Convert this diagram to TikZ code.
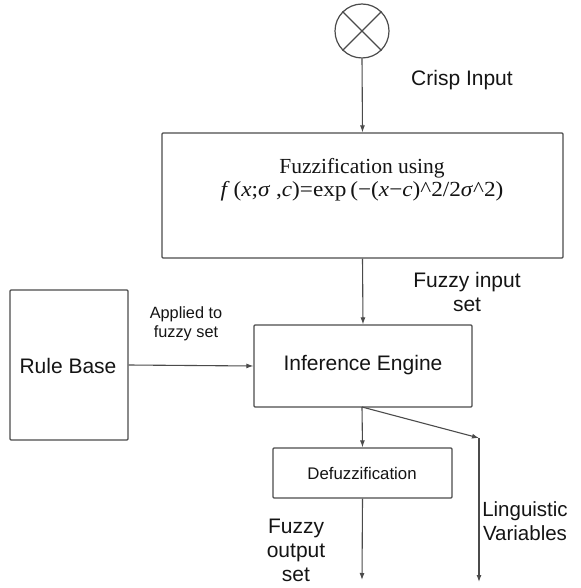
\documentclass[tikz,border=0pt]{standalone}
\usepackage{fontspec}
\setmainfont{Liberation Sans}
\newfontfamily\formulafont{Liberation Serif}
\usetikzlibrary{arrows.meta}
\definecolor{linecol}{RGB}{75,75,75}
\definecolor{textcol}{RGB}{20,20,20}
\tikzset{
  block/.style={draw=linecol, line width=1.2pt, rounded corners=1pt, inner sep=0pt, text=textcol},
  conn/.style={draw=linecol, line width=1.1pt},
  arr/.style={conn, -{Latex[length=7pt,width=5pt]}},
  lbl/.style={text=textcol, font=\fontsize{21}{24.5}\selectfont, align=center, inner sep=0pt},
  smalllbl/.style={text=textcol, font=\fontsize{16.3}{18.5}\selectfont, align=center, inner sep=0pt},
}
\begin{document}
\begin{tikzpicture}[x=1pt, y=-1pt]
\useasboundingbox (0,0) rectangle (580,588);

% input summing junction
\node[draw=linecol, line width=1.2pt, circle, minimum size=54pt, inner sep=0pt] (src) at (362,31) {};
\draw[conn] (src.north west) -- (src.south east);
\draw[conn] (src.north east) -- (src.south west);
\node[lbl] (crisp) at (462,80) {Crisp Input};

% fuzzification block
\node[block, minimum width=401pt, minimum height=125pt] (fuzz) at (362.5,195.5) {};
\node[text=textcol, align=center, inner sep=0pt, font=\formulafont\fontsize{21.5}{24}\selectfont] (fuzztxt) at (362,180)
  {Fuzzification using\\[-1pt]
   \scalebox{1.08}[1]{\textit{f}\,(\textit{x};\textit{σ} ,\textit{c})=exp\,(−(\textit{x}−\textit{c})\textasciicircum 2/2\textit{σ}\textasciicircum 2)}};

\draw[arr] (src.south) -- (fuzz.north);

% fuzzy input set label
\node[lbl] (fin) at (467,292) {Fuzzy input\\set};

% rule base
\node[block, minimum width=118pt, minimum height=150pt] (rule) at (69,365) {};
\node[lbl] (ruletxt) at (68,366) {Rule Base};

% inference engine
\node[block, minimum width=218pt, minimum height=82pt] (inf) at (363,366) {};
\node[lbl] (inftxt) at (363,365) {Inference Engine};

\draw[arr] (fuzz.south) -- (inf.north);
\draw[arr] (rule.east) -- (inf.west);
\node[smalllbl] (applied) at (186,324) {Applied to\\fuzzy set};

% defuzzification
\node[block, minimum width=179pt, minimum height=50pt] (defuz) at (362.5,473) {};
\node[text=textcol, inner sep=0pt, font=\fontsize{16.8}{19}\selectfont] (defuztxt) at (362,473) {Defuzzification};

\coordinate (split) at (362,407);
\coordinate (bend) at (479,438);
\coordinate (lvend) at (479,582);
\coordinate (foend) at (362,580);

\draw[arr] (split) -- (defuz.north);
\draw[arr] (split) -- (bend);
\draw[arr] (bend) -- (lvend);
\draw[arr] (defuz.south) -- (foend);

\node[lbl, font=\fontsize{21}{24}\selectfont] (fout) at (296,550) {Fuzzy\\output\\set};
\node[lbl, font=\fontsize{20.5}{24}\selectfont] (ling) at (525,521) {Linguistic\\Variables};
\end{tikzpicture}
\end{document}
